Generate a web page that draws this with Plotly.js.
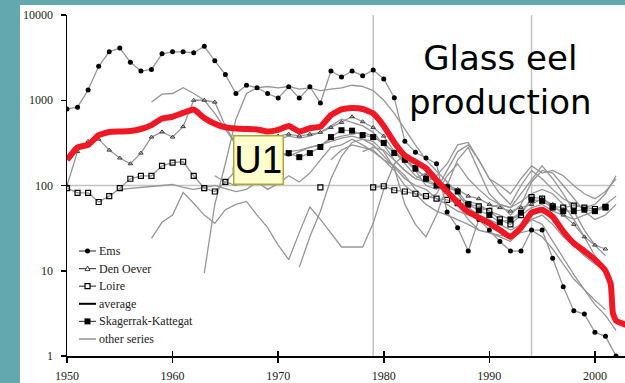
<!DOCTYPE html>
<html>
<head>
<meta charset="utf-8">
<script src="https://cdn.plot.ly/plotly-3.0.1.min.js"></script>
<style>
html,body{margin:0;padding:0;background:#63a8ae;}
#chart{width:625px;height:383px;}
</style>
</head>
<body>
<div id="chart"></div>
<script>
// ---------- DATA ----------
const years50 = [];
for (let y = 1950; y <= 2002; y++) years50.push(y);

const emsYears = years50;
const emsValues = [790,830,1320,2500,3700,4100,2800,2200,2300,3500,3700,3700,3600,4300,2900,2000,1200,1500,1400,1200,1060,1440,1060,1440,930,2200,1870,2200,1940,2260,1780,1070,330,245,210,180,49,32,17,40,30,22,17,17,30,30,14,6.5,3.4,3.1,1.9,1.7,1.0];

const denOeverYears = years50.slice(0, 52);
const denOeverValues = [100,250,330,350,260,210,180,240,370,425,370,490,1000,1000,950,500,300,250,300,350,380,400,380,400,420,480,550,640,560,480,380,250,200,150,130,110,100,90,75,70,60,55,50,55,60,70,60,45,35,25,20,18];

const loireYears = years50.slice(0, 52);
const loireValues = [93,82,82,64,75,93,120,130,130,170,185,190,130,93,85,110,150,null,null,null,null,null,null,null,95,null,null,null,null,95,98,88,85,80,75,70,68,62,60,57,50,40,35,45,73,70,57,55,58,55,53,56];

const skagYears = years50.slice(16, 52);
const skagValues = [160,200,230,240,230,240,215,240,283,370,445,440,390,370,316,240,200,160,120,100,95,85,60,51,45,37,40,48,68,66,55,50,50,52,50,55];

const averageYears = [1950,1951,1952,1953,1954,1955,1956,1957,1958,1959,1960,1961,1962,1963,1964,1965,1966,1967,1968,1969,1970,1971,1972,1973,1974,1975,1976,1977,1978,1979,1980,1981,1982,1983,1984,1985,1986,1987,1988,1989,1990,1991,1992,1993,1994,1995,1996,1997,1998,1999,2000,2001,2001.5,2001.7,2002,2003];
const averageValues = [200,280,300,390,425,430,435,460,510,610,640,710,780,620,530,480,465,460,455,430,450,500,430,470,490,670,780,810,790,700,500,320,225,190,160,115,85,63,49,42,36,30,25,32,48,52,43,29,21,17,13.5,10,7,3.2,2.6,2.3];

// other series (start year, values)
const other1Start = 1958;
const other1 = [950,1180,1200,1400,1200,1000,700,450,300,250,230,280,350,380,360,380,420,500,600,550,500,420,300,200,150,120,140,120,90,60,40,30,28,25,22,30,40,45,35,25,20,15,12,10];
const other2Start = 1963;
const other2 = [9.4,60,180,600,1200,1400,1450,1400,1450,1350,1400,1300,1350,1400,1500,1450,1300,1000,700,450,300,200,150,110,80,55,45,40,35,30,35,40,35,22,14,9,6,4,3,2];
const other3Start = 1958;
const other3 = [24,37,45,83,62,45,36,52,60,65,45,32,20,13.5,28,56,40,28,19,19,19,36,90,180,230,150,100,90,150,250,300,200,120,80,60,100,150,120,90,70,60,55,60,80,130];
const other4Start = 1972;
const other4 = [11,25,50,120,220,320,350,330,250,160,60,35,25,45,100,200,280,150,80,60,45,60,110,150,140,100,70,50,40,45,60];
const other5Start = 1964;
const other5 = [130,110,100,120,110,90,105,130,110,140,200,280,300,350,300,250,200,170,130,90,70,80,130,180,120,90,70,60,55,80,120,170,120,80,50,30,20,15];
const other6Start = 1955;
const other6 = [90,92,95,97,100,103,95,90,95,100,92,85,90,110,150,200,250,260,280,300,330,360,380,350,300,220,160,120,100,90,70,60,50,45,50,55,60,55,65,80,90,80,60,40,25,15,10];
const other7Start = 1975;
const other7 = [200,260,300,280,260,200,150,100,80,60,50,45,40,35,30,28,26,25,28,30,25,18,12,8,6,4.5,3.5];
const other8Start = 1978;
const other8 = [250,280,260,200,150,120,110,130,180,300,320,200,120,100,80,120,170,140,150,130,100,80,70,85,120];
const other9Start = 1966;
const other9 = [200,250,300,280,250,220,250,280,300,350,380,400,420,380,300,250,180,130,110,100,80,70,65,60,50,45,40,45,55,60,50,45,40,45,50,60,75];

const otherStarts = [other1Start, other2Start, other3Start, other4Start, other5Start, other6Start, other7Start, other8Start, other9Start];
const otherValues = [other1, other2, other3, other4, other5, other6, other7, other8, other9];

const legendNames = ['Ems', 'Den Oever', 'Loire', 'average', 'Skagerrak-Kattegat', 'other series'];

const yTickVals = [1, 10, 100, 1000, 10000];
const yTickText = ['1', '10', '100', '1000', '10000'];
const xTickVals = [1950, 1960, 1970, 1980, 1990, 2000];
const xTickText = ['1950', '1960', '1970', '1980', '1990', '2000'];
const markerLines = [1979, 1994];
const refLevel = 100;

// ---------- STYLE / LAYOUT ----------
const W = 625, H = 383, ML = 67, MR = 0, MT = 15, MB = 27;
const PW = W - ML - MR, PH = H - MT - MB;
const px2x = px => (px - ML) / PW;
const px2y = py => (H - MB - py) / PH;

const GRAY = 'rgb(150,150,150)';
const SERIF = "'Liberation Serif', 'Times New Roman', serif";
const traces = [];

otherValues.forEach((vals, i) => {
  const xs = vals.map((_, k) => otherStarts[i] + k);
  traces.push({
    x: xs, y: vals, type: 'scatter', mode: 'lines',
    line: {color: GRAY, width: 1.3}, name: 'other series', hoverinfo: 'skip'
  });
});

const denStyle = {symbol: 'triangle-up-open', size: 4, color: 'rgb(60,60,60)', line: {width: 1}};
traces.push({x: denOeverYears, y: denOeverValues, type: 'scatter', mode: 'lines+markers',
  name: 'Den Oever', line: {color: GRAY, width: 1.3}, marker: denStyle});
traces.push({x: loireYears, y: loireValues, type: 'scatter', mode: 'lines+markers',
  name: 'Loire', connectgaps: false, line: {color: GRAY, width: 1.3},
  marker: {symbol: 'square-open', size: 5, color: 'black', line: {width: 1.2}}});
traces.push({x: skagYears, y: skagValues, type: 'scatter', mode: 'lines+markers',
  name: 'Skagerrak-Kattegat', line: {color: GRAY, width: 1.3},
  marker: {symbol: 'square', size: 6, color: 'black'}});
traces.push({x: emsYears, y: emsValues, type: 'scatter', mode: 'lines+markers',
  name: 'Ems', line: {color: GRAY, width: 1.3},
  marker: {symbol: 'circle', size: 5, color: 'black'}});
traces.push({x: averageYears, y: averageValues, type: 'scatter', mode: 'lines',
  name: 'average', line: {color: 'rgb(240,24,36)', width: 6, shape: 'spline', smoothing: 0.4}});
traces.push({x: [null], y: [null], xaxis: 'x2', yaxis: 'y', mode: 'lines'});

const shapes = [
  {type: 'rect', xref: 'paper', yref: 'paper', x0: px2x(20), x1: px2x(630), y0: px2y(390), y1: px2y(5),
   fillcolor: 'white', line: {width: 0}, layer: 'below'},
  {type: 'line', xref: 'x', yref: 'y', x0: 1950, x1: 2001.9, y0: refLevel, y1: refLevel,
   line: {color: 'rgb(195,195,195)', width: 1.5}, layer: 'below'}
];
markerLines.forEach(yr => shapes.push({
  type: 'line', xref: 'x', yref: 'paper', x0: yr, x1: yr, y0: 0, y1: 1,
  line: {color: 'rgb(195,195,195)', width: 1.5}, layer: 'below'
}));

// hand-made legend (samples + labels)
const annotations = [];
const LEG_X0 = 79, LEG_X1 = 96, LEG_TX = 98, LEG_Y0 = 251, LEG_DY = 17.6;
const legLine = 'rgb(70,70,70)';
legendNames.forEach((nm, i) => {
  const cy = LEG_Y0 + i * LEG_DY;
  const cx = (LEG_X0 + LEG_X1) / 2;
  const isAvg = nm === 'average';
  const isOther = nm === 'other series';
  shapes.push({type: 'line', xref: 'paper', yref: 'paper',
    x0: px2x(LEG_X0), x1: px2x(LEG_X1), y0: px2y(cy), y1: px2y(cy),
    line: {color: isAvg ? 'black' : (isOther ? 'rgb(120,120,120)' : legLine), width: isAvg ? 2 : 1.2}});
  if (nm === 'Ems') {
    shapes.push({type: 'circle', xref: 'paper', yref: 'paper',
      x0: px2x(cx - 2.5), x1: px2x(cx + 2.5), y0: px2y(cy + 2.5), y1: px2y(cy - 2.5),
      fillcolor: 'black', line: {width: 0}});
  } else if (nm === 'Loire') {
    shapes.push({type: 'rect', xref: 'paper', yref: 'paper',
      x0: px2x(cx - 2.5), x1: px2x(cx + 2.5), y0: px2y(cy + 2.5), y1: px2y(cy - 2.5),
      fillcolor: 'white', line: {color: 'black', width: 1.2}});
  } else if (nm === 'Skagerrak-Kattegat') {
    shapes.push({type: 'rect', xref: 'paper', yref: 'paper',
      x0: px2x(cx - 3), x1: px2x(cx + 3), y0: px2y(cy + 3), y1: px2y(cy - 3),
      fillcolor: 'black', line: {width: 0}});
  } else if (nm === 'Den Oever') {
    const p = [[cx - 2.5, cy + 2], [cx + 2.5, cy + 2], [cx, cy - 2.5]]
      .map(q => px2x(q[0]) + ',' + px2y(q[1]));
    shapes.push({type: 'path', xref: 'paper', yref: 'paper',
      path: 'M' + p[0] + 'L' + p[1] + 'L' + p[2] + 'Z',
      fillcolor: 'white', line: {color: 'rgb(60,60,60)', width: 1}});
  }
  annotations.push({text: nm, xref: 'paper', yref: 'paper', x: px2x(LEG_TX), y: px2y(cy),
    xanchor: 'left', yanchor: 'middle', showarrow: false, borderpad: 0,
    font: {family: SERIF, size: 12, color: '#222'}});
});

annotations.push(
  {text: 'Glass eel<br>production', xref: 'paper', yref: 'paper', x: px2x(500), y: px2y(80),
   xanchor: 'center', yanchor: 'middle', showarrow: false,
   font: {family: 'DejaVu Sans, sans-serif', size: 34, color: 'black'}},
  {text: 'U1', xref: 'paper', yref: 'paper', x: px2x(258), y: px2y(160.5),
   xanchor: 'center', yanchor: 'middle', showarrow: false,
   width: 44, height: 43, borderpad: 2, borderwidth: 1.5,
   bordercolor: 'rgb(175,165,50)', bgcolor: 'rgb(255,255,205)',
   font: {family: "'Liberation Sans Narrow', 'Liberation Sans', sans-serif", size: 38, color: 'black'}}
);

const tickFont = {family: SERIF, size: 12, color: '#222'};

const layout = {
  width: W, height: H,
  margin: {l: ML, r: MR, t: MT, b: MB, pad: 0},
  paper_bgcolor: 'rgb(99,168,174)',
  plot_bgcolor: 'white',
  showlegend: false,
  xaxis: {
    range: [1950, 2002.85], showgrid: false, zeroline: false,
    showline: true, linecolor: 'black', linewidth: 1.5,
    tickvals: xTickVals, ticktext: xTickText,
    ticks: 'outside', ticklen: 5, tickwidth: 1.5, tickcolor: 'black',
    tickfont: tickFont, ticklabelstandoff: 3
  },
  xaxis2: {
    range: [1950, 2002.85], overlaying: 'x', anchor: 'y', showgrid: false, zeroline: false,
    tickvals: xTickVals, showticklabels: false, side: 'bottom',
    ticks: 'inside', ticklen: 5, tickwidth: 1.5, tickcolor: 'black'
  },
  yaxis: {
    type: 'log', range: [0, 4], showgrid: false, zeroline: false,
    showline: true, linecolor: 'black', linewidth: 1.5,
    tickvals: yTickVals, ticktext: yTickText,
    ticks: 'outside', ticklen: 5, tickwidth: 1.5, tickcolor: 'black',
    tickfont: tickFont, ticklabelstandoff: 5
  },
  shapes: shapes,
  annotations: annotations
};

Plotly.newPlot('chart', traces, layout, {staticPlot: true, displayModeBar: false});
</script>
</body>
</html>
